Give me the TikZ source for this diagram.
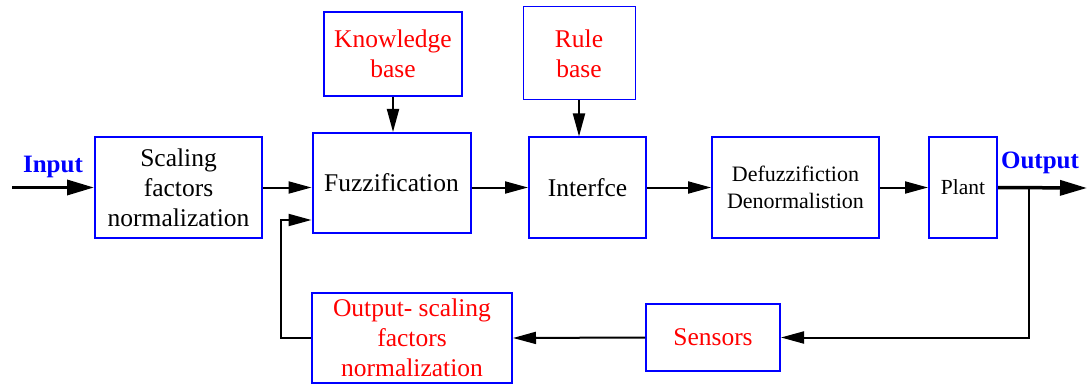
\documentclass[tikz,border=0pt]{standalone}
\usepackage{fontspec}
\setmainfont{Liberation Serif}
\usetikzlibrary{arrows.meta,calc}
\definecolor{boxblue}{RGB}{0,0,255}
\definecolor{labred}{RGB}{255,0,0}
\begin{document}
\begin{tikzpicture}[x=1pt,y=-1pt,
  blk/.style={draw=boxblue,line width=2pt,inner sep=0pt,align=center,
    font=\fontsize{25.5}{30}\selectfont},
  conn/.style={line width=2pt,-{Triangle[length=23pt,width=12pt]}},
  heavy/.style={line width=3.5pt,-{Triangle[length=27pt,width=15pt]}},
  sig/.style={text=boxblue,font=\fontsize{25}{30}\selectfont\bfseries}]
\useasboundingbox (0,0) rectangle (1087,385);

% forward path
\node[blk,minimum width=167pt,minimum height=100pt] (scal) at (178.5,187.5)
  {Scaling\\factors\\normalization};
\node[blk,minimum width=158pt,minimum height=100pt] (fuzz) at (391.5,183)
  {Fuzzification};
\node[blk,minimum width=117pt,minimum height=100pt] (intf) at (587.5,187.5)
  {Interfce};
\node[blk,minimum width=167pt,minimum height=100pt,
  font=\fontsize{22}{27}\selectfont] (defz) at (795.5,187.5)
  {Defuzzifiction\\Denormalistion};
\node[blk,minimum width=68pt,minimum height=100pt,
  font=\fontsize{21.5}{27}\selectfont] (plant) at (963,187.5) {Plant};

% knowledge and rule bases
\node[blk,text=labred,minimum width=138pt,minimum height=84pt] (kb) at (393,54)
  {Knowledge\\base};
\node[blk,draw,line width=1pt,text=labred,minimum width=112pt,minimum height=93pt]
  (rb) at (579,53.5) {Rule\\base};

% feedback path
\node[blk,text=labred,minimum width=200pt,minimum height=90pt] (osf) at (412,338)
  {Output- scaling\\factors\\normalization};
\node[blk,text=labred,minimum width=134pt,minimum height=67pt] (sens) at (713,337.5)
  {Sensors};

% signal labels
\node[sig] (inlab) at (53,167) {Input};
\node[sig] (outlab) at (1040,163) {Output};

\coordinate (in) at (12,187.5);
\coordinate (out) at (1087,188);
\coordinate (br) at (1029,188);
\coordinate (fb) at (281,220);

% connectors
\draw[heavy] (in) -- (scal.west);
\draw[conn] (scal.east) -- (scal.east -| fuzz.west);
\draw[conn] (kb.south) -- (kb.south |- fuzz.north);
\draw[conn] (rb.south) -- (rb.south |- intf.north);
\draw[conn] (scal.east -| fuzz.east) -- (intf.west);
\draw[conn] (intf.east) -- (defz.west);
\draw[conn] (defz.east) -- (plant.west);
\draw[heavy] (plant.east) -- (out);
\draw[conn] (br) -- (br |- sens.east) -- (sens.east);
\draw[conn] (sens.west) -- (osf.east);
\draw[conn] (osf.west) -| (fb) -- (fb -| fuzz.west);
\end{tikzpicture}
\end{document}
